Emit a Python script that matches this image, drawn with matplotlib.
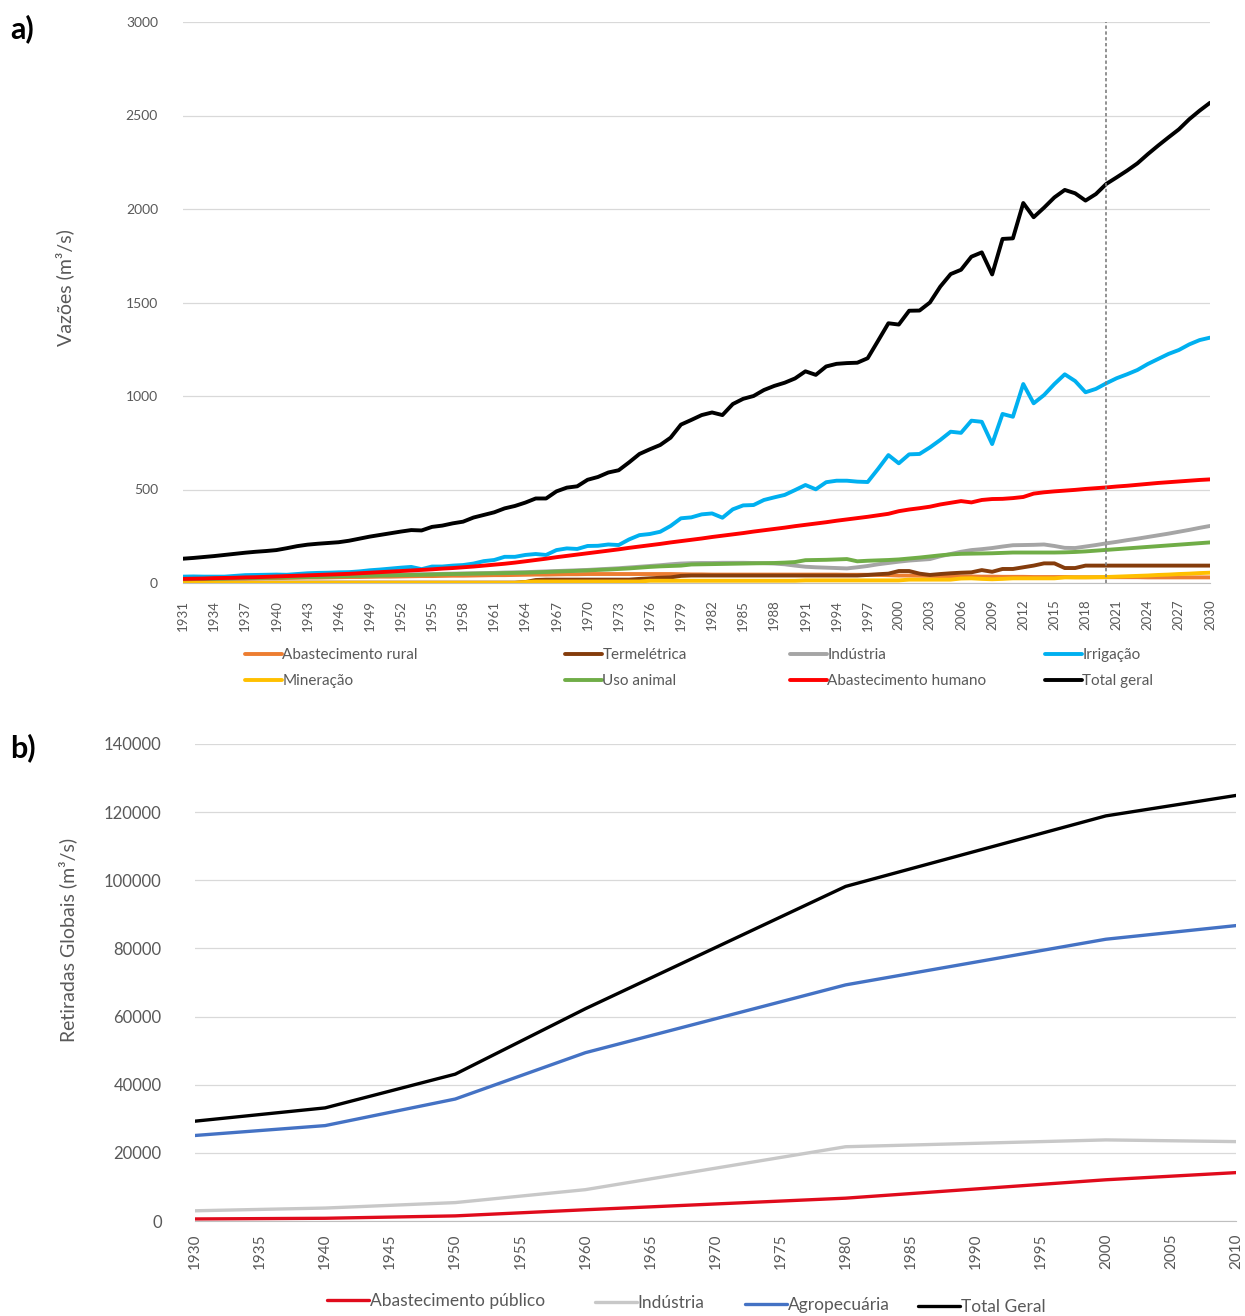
import matplotlib
matplotlib.use("Agg")
import matplotlib.pyplot as plt
import numpy as np

plt.rcParams['font.family'] = ['Lato', 'DejaVu Sans']

# ---- panel a) : 1931-2030 ----
years_a = list(range(1931, 2031))

total_geral = [
    130, 134, 139, 144, 150, 156, 162, 167, 171, 176,
    186, 197, 205, 210, 214, 218, 226, 237, 248, 257,
    266, 275, 283, 281, 300, 307, 319, 328, 350, 364,
    378, 399, 412, 430, 452, 452, 490, 510, 517, 552,
    567, 591, 603, 645, 690, 715, 738, 777, 847, 872,
    898, 912, 898, 957, 985, 1000, 1032, 1054, 1071, 1094,
    1132, 1113, 1158, 1172, 1176, 1178, 1202, 1295, 1389, 1382,
    1456, 1457, 1500, 1585, 1652, 1675, 1745, 1768, 1650, 1840,
    1843, 2032, 1956, 2007, 2062, 2102, 2084, 2045, 2080, 2134,
    2169, 2205, 2244, 2293, 2339, 2383, 2426, 2480, 2526, 2568]

irrigacao = [
    34, 35, 34, 34, 34, 38, 42, 43, 44, 45,
    44, 48, 52, 54, 55, 57, 58, 62, 68, 72,
    77, 82, 86, 74, 88, 88, 93, 96, 104, 117,
    123, 140, 140, 150, 155, 150, 176, 185, 182, 198,
    199, 206, 203, 233, 256, 262, 274, 305, 346, 351,
    367, 372, 349, 394, 415, 417, 444, 458, 471, 497,
    524, 501, 539, 547, 547, 542, 540, 610, 684, 640,
    688, 690, 725, 765, 809, 803, 868, 862, 743, 904,
    889, 1064, 961, 1005, 1064, 1116, 1080, 1020, 1038, 1068,
    1095, 1116, 1139, 1171, 1198, 1225, 1246, 1276, 1299, 1312]

abast_humano = [
    22, 23, 24, 26, 27, 28, 30, 31, 33, 35,
    37, 39, 41, 43, 45, 47, 49, 52, 55, 58,
    61, 64, 67, 70, 73, 77, 80, 84, 88, 93,
    98, 103, 109, 116, 123, 130, 138, 145, 152, 159,
    166, 173, 180, 188, 195, 202, 209, 217, 224, 231,
    238, 246, 253, 260, 267, 275, 282, 289, 296, 304,
    311, 318, 325, 333, 340, 347, 354, 362, 370, 384,
    393, 400, 408, 420, 429, 438, 431, 444, 449, 450,
    454, 460, 478, 485, 490, 494, 498, 503, 507, 511,
    516, 520, 525, 530, 535, 539, 543, 547, 551, 554]

industria = [
    24, 25, 26, 27, 28, 29, 30, 31, 32, 33,
    34, 35, 36, 37, 38, 39, 40, 41, 42, 43,
    44, 45, 46, 47, 48, 49, 50, 51, 52, 53,
    54, 56, 57, 58, 60, 62, 64, 66, 68, 70,
    73, 76, 79, 83, 87, 91, 95, 100, 104, 106,
    107, 107, 108, 108, 108, 107, 106, 104, 100, 93,
    87, 84, 82, 80, 78, 84, 91, 100, 107, 114,
    120, 124, 128, 143, 155, 167, 176, 181, 187, 195,
    202, 203, 204, 206, 198, 188, 187, 195, 203, 212,
    220, 229, 237, 246, 255, 264, 274, 284, 295, 305]

uso_animal = [
    20, 21, 22, 23, 24, 25, 26, 27, 28, 29,
    30, 31, 32, 33, 34, 36, 37, 38, 39, 40,
    41, 42, 43, 44, 45, 47, 48, 49, 50, 51,
    52, 53, 54, 55, 57, 59, 61, 63, 65, 67,
    70, 72, 75, 78, 82, 86, 89, 91, 93, 99,
    100, 101, 102, 103, 104, 105, 106, 107, 109, 112,
    122, 123, 124, 126, 128, 116, 119, 121, 123, 126,
    131, 136, 142, 148, 153, 156, 157, 158, 159, 161,
    163, 163, 163, 163, 163, 164, 166, 169, 173, 177,
    181, 185, 189, 193, 197, 201, 205, 209, 213, 217]

termeletrica = [
    2, 2, 2, 2, 2, 2, 2, 2, 2, 2,
    2, 2, 2, 2, 2, 2, 2, 2, 2, 2,
    2, 2, 2, 2, 2, 2, 2, 2, 2, 2,
    2, 2, 2, 5, 16, 18, 18, 18, 18, 18,
    18, 18, 18, 18, 22, 25, 28, 30, 38, 40,
    40, 40, 40, 40, 40, 40, 40, 40, 40, 40,
    40, 40, 40, 40, 40, 40, 43, 47, 50, 64,
    64, 50, 43, 48, 52, 55, 57, 69, 60, 75,
    75, 84, 93, 105, 105, 80, 80, 93, 93, 93,
    93, 93, 93, 93, 93, 93, 93, 93, 93, 93]

abast_rural = [
    20, 21, 21, 22, 23, 24, 24, 25, 26, 26,
    27, 28, 29, 29, 30, 31, 32, 32, 33, 34,
    34, 35, 36, 37, 37, 38, 39, 39, 40, 41,
    42, 42, 43, 44, 45, 45, 46, 47, 47, 48,
    48, 48, 48, 48, 48, 48, 48, 48, 47, 46,
    46, 45, 45, 45, 45, 45, 45, 45, 45, 45,
    45, 45, 45, 45, 44, 44, 44, 43, 42, 40,
    40, 39, 38, 37, 36, 35, 35, 34, 34, 33,
    33, 33, 32, 32, 32, 32, 31, 31, 31, 31,
    31, 31, 31, 30, 30, 30, 30, 30, 30, 30]

mineracao = [
    1, 1, 1, 1, 1, 1, 1, 1, 1, 1,
    1, 1, 1, 1, 1, 1, 1, 1, 1, 1,
    1, 1, 1, 1, 1, 1, 1, 1, 1, 1,
    1, 1, 1, 5, 8, 8, 8, 8, 8, 8,
    8, 8, 8, 8, 8, 12, 12, 12, 12, 12,
    12, 12, 12, 12, 12, 12, 12, 12, 12, 12,
    14, 14, 14, 14, 14, 14, 14, 14, 14, 14,
    18, 18, 18, 18, 18, 24, 25, 22, 20, 22,
    25, 25, 25, 25, 25, 30, 30, 30, 31, 32,
    34, 36, 38, 40, 43, 45, 48, 50, 53, 55]

# ---- panel b) ----
years_b = [1930, 1940, 1950, 1960, 1980, 2000, 2010]
abast_publico = [600, 800, 1500, 3300, 6700, 12100, 14200]
industria_b = [3000, 3800, 5400, 9200, 21800, 23800, 23300]
agropecuaria = [25100, 28000, 35800, 49400, 69300, 82700, 86700]
total_b = [29300, 33200, 43100, 62300, 98200, 118900, 124900]

W, H = 1245, 1316
fig = plt.figure(figsize=(W / 100, H / 100), dpi=100)
tick_gray = '#595959'
grid_gray = '#D9D9D9'

# ---------- top panel ----------
ax1 = fig.add_axes([183 / W, 1 - 583 / H, 1027 / W, 561 / H])
series_a = [
    ('Abastecimento rural', abast_rural, '#ED7D31'),
    ('Termelétrica', termeletrica, '#843C0C'),
    ('Indústria', industria, '#A5A5A5'),
    ('Irrigação', irrigacao, '#00B0F0'),
    ('Mineração', mineracao, '#FFC000'),
    ('Uso animal', uso_animal, '#70AD47'),
    ('Abastecimento humano', abast_humano, '#FF0000'),
    ('Total geral', total_geral, '#000000'),
]
handles_a = []
for name, vals, col in series_a:
    h, = ax1.plot(years_a, vals, color=col, lw=2.8, label=name,
                  solid_joinstyle='round', solid_capstyle='round')
    handles_a.append(h)

ax1.axvline(2020, color='#7F7F7F', lw=1.2, ls=(0, (2, 1.5)))
ax1.set_xlim(1931, 2030)
ax1.set_ylim(0, 3000)
ax1.set_yticks(np.arange(0, 3001, 500))
ax1.set_xticks(years_a[::3])
ax1.tick_params(axis='x', labelrotation=90, labelsize=9.5, colors=tick_gray, length=0, pad=12)
ax1.tick_params(axis='y', labelsize=10, colors=tick_gray, length=0, pad=18)
ax1.grid(axis='y', color=grid_gray, lw=0.9)
ax1.set_axisbelow(True)
for s in ['top', 'right', 'left']:
    ax1.spines[s].set_visible(False)
ax1.spines['bottom'].set_color('#BFBFBF')
fig.text(65 / W, 1 - 288 / H, 'Vazões (m³/s)', rotation=90, ha='center', va='center',
         fontsize=14, color=tick_gray)

# legend of panel a: four columns placed like the original
col_x = [245, 565, 790, 1045]
for i, x in enumerate(col_x):
    fig.legend([handles_a[i], handles_a[i + 4]],
               [series_a[i][0], series_a[i + 4][0]],
               loc='upper left', bbox_to_anchor=(x / W, 1 - 648 / H),
               frameon=False, fontsize=11, handlelength=2.4, handletextpad=0.05,
               borderpad=0, borderaxespad=0, labelspacing=0.8, labelcolor=tick_gray)

# ---------- bottom panel ----------
ax2 = fig.add_axes([195 / W, 1 - 1221 / H, 1041 / W, 477 / H])
series_b = [
    ('Abastecimento público', abast_publico, '#E00B1C'),
    ('Indústria', industria_b, '#C8C8C8'),
    ('Agropecuária', agropecuaria, '#4472C4'),
    ('Total Geral', total_b, '#000000'),
]
handles_b = []
for name, vals, col in series_b:
    h, = ax2.plot(years_b, vals, color=col, lw=2.4, label=name, solid_capstyle='round')
    handles_b.append(h)
ax2.set_xlim(1930, 2010)
ax2.set_ylim(0, 140000)
ax2.set_yticks(np.arange(0, 140001, 20000))
ax2.set_xticks(np.arange(1930, 2011, 5))
ax2.tick_params(axis='x', labelrotation=90, labelsize=11, colors=tick_gray, length=0, pad=9)
ax2.tick_params(axis='y', labelsize=12, colors=tick_gray, length=0, pad=24)
ax2.grid(axis='y', color=grid_gray, lw=0.9)
ax2.set_axisbelow(True)
for s in ['top', 'right', 'left']:
    ax2.spines[s].set_visible(False)
ax2.spines['bottom'].set_color('#BFBFBF')
fig.text(68 / W, 1 - 940 / H, 'Retiradas Globais (m³/s)', rotation=90, ha='center', va='center',
         fontsize=14, color=tick_gray)

leg_b = [(327, 1301), (595, 1303), (745, 1305), (918, 1307)]
for h, (name, _, _), (x, y) in zip(handles_b, series_b, leg_b):
    fig.legend([h], [name], loc='center left', bbox_to_anchor=(x / W, 1 - y / H),
               frameon=False, fontsize=12.5, handlelength=2.4, handletextpad=0.05,
               borderpad=0, borderaxespad=0, labelcolor=tick_gray)

fig.text(10 / W, 1 - 29 / H, 'a)', fontsize=22, fontweight='bold', va='center', ha='left')
fig.text(10 / W, 1 - 748 / H, 'b)', fontsize=22, fontweight='bold', va='center', ha='left')

fig.savefig('out.png', dpi=100)
